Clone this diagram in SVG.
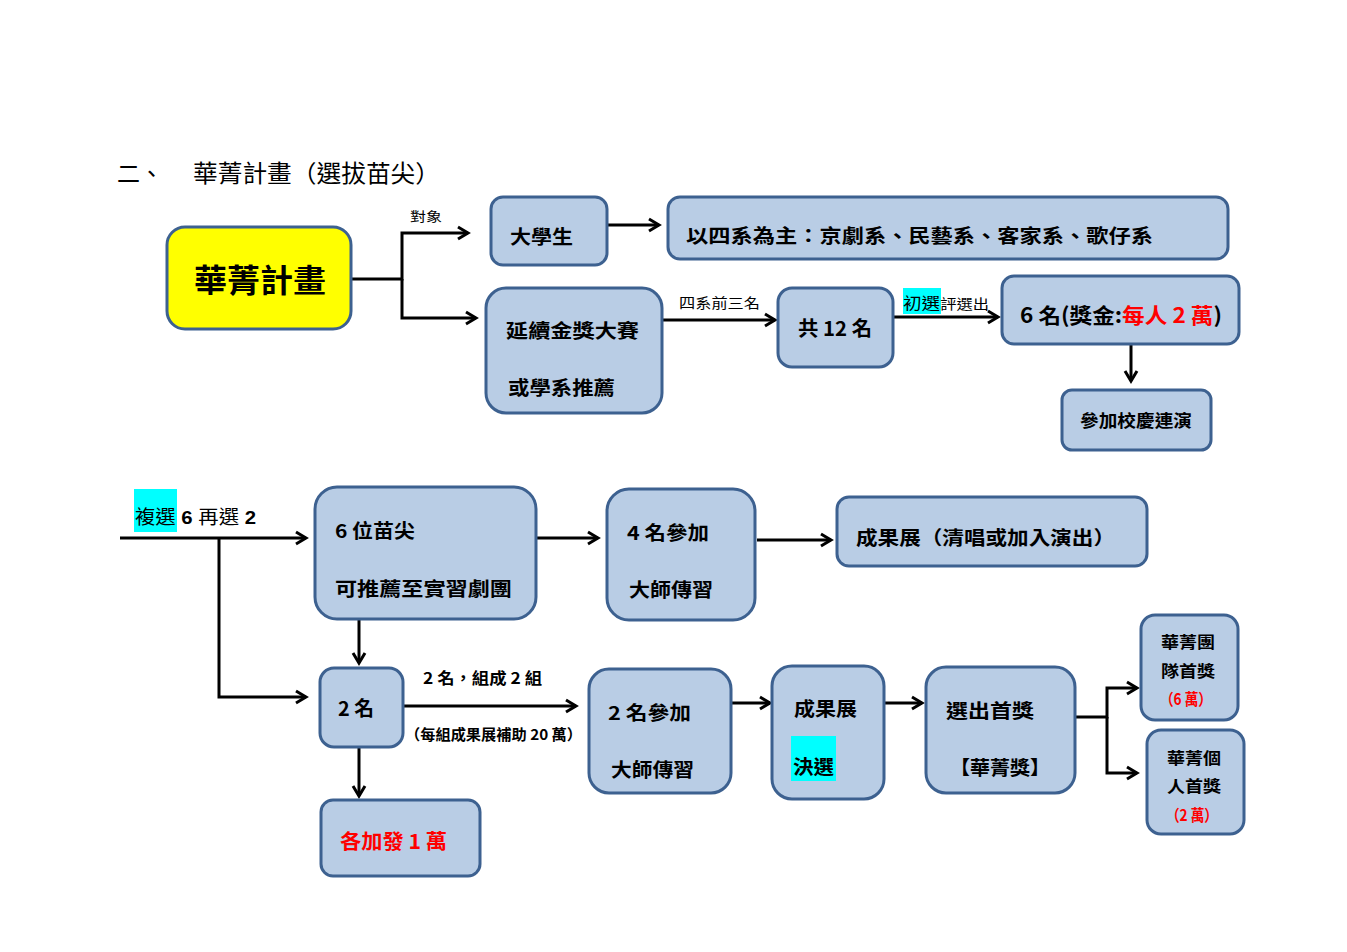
<svg xmlns="http://www.w3.org/2000/svg" width="1347" height="952" viewBox="0 0 1347 952">
<defs>
<style>
.box{fill:#B9CDE5;stroke:#3D6190;stroke-width:3}
.t{font-family:"Noto Sans CJK TC","Noto Sans CJK SC",sans-serif;font-weight:bold;fill:#000}
.n{font-family:"Noto Sans CJK TC","Noto Sans CJK SC",sans-serif;fill:#000}
.red{fill:#FF0000}
.c{fill:none;stroke:#000;stroke-width:3}
.hl{fill:#00FFFF}
</style>
<marker id="ah" markerUnits="userSpaceOnUse" markerWidth="16" markerHeight="16" refX="12" refY="8" orient="auto">
<path d="M2,2 L12,8 L2,14" fill="none" stroke="#000" stroke-width="3"/>
</marker>
</defs>
<rect width="1347" height="952" fill="#fff"/>

<g id="title">
<text class="n" x="117" y="182" font-size="23">二、</text>
<text class="n" x="193" y="182" font-size="24" textLength="247" lengthAdjust="spacingAndGlyphs">華菁計畫（選拔苗尖）</text>
</g>

<g id="connectors">
<path class="c" d="M351,279 H402 V233 H468" marker-end="url(#ah)"/>
<path class="c" d="M402,279 V318 H476" marker-end="url(#ah)"/>
<path class="c" d="M607,225 H659" marker-end="url(#ah)"/>
<path class="c" d="M662,320 H775" marker-end="url(#ah)"/>
<path class="c" d="M893,317 H998" marker-end="url(#ah)"/>
<path class="c" d="M1131,345 V381" marker-end="url(#ah)"/>
<path class="c" d="M120,538 H306" marker-end="url(#ah)"/>
<path class="c" d="M219,538 V697 H306" marker-end="url(#ah)"/>
<path class="c" d="M537,538 H598" marker-end="url(#ah)"/>
<path class="c" d="M757,540 H831" marker-end="url(#ah)"/>
<path class="c" d="M359,620 V663" marker-end="url(#ah)"/>
<path class="c" d="M403,706 H576" marker-end="url(#ah)"/>
<path class="c" d="M359,747 V796" marker-end="url(#ah)"/>
<path class="c" d="M731,703 H770" marker-end="url(#ah)"/>
<path class="c" d="M884,703 H922" marker-end="url(#ah)"/>
<path class="c" d="M1075,717 H1107 V688 H1137" marker-end="url(#ah)"/>
<path class="c" d="M1107,717 V773 H1137" marker-end="url(#ah)"/>
</g>

<g id="labels">
<text class="n" x="410" y="221" font-size="13" textLength="32" lengthAdjust="spacingAndGlyphs">對象</text>
<text class="n" x="679" y="308" font-size="14" textLength="81" lengthAdjust="spacingAndGlyphs">四系前三名</text>
<rect class="hl" x="903" y="288" width="38" height="26"/>
<text class="n" x="903" y="309" font-size="16" textLength="86" lengthAdjust="spacingAndGlyphs">初選<tspan font-size="14">評選出</tspan></text>
<rect class="hl" x="134" y="489" width="43" height="43"/>
<text class="n" x="135" y="524" font-size="19" textLength="121" lengthAdjust="spacingAndGlyphs">複選<tspan font-weight="bold" font-family="Liberation Sans, sans-serif"> 6 </tspan>再選<tspan font-weight="bold" font-family="Liberation Sans, sans-serif"> 2</tspan></text>
<text class="t" x="423" y="684" font-size="16" textLength="119" lengthAdjust="spacingAndGlyphs">2 名，組成 2 組</text>
<text class="t" x="405" y="740" font-size="15" textLength="177" lengthAdjust="spacingAndGlyphs">（每組成果展補助 20 萬）</text>
</g>

<g id="n-huajing">
<rect x="167" y="227" width="184" height="102" rx="18" fill="#FFFF00" stroke="#3D6190" stroke-width="3"/>
<text class="t" x="194" y="292" font-size="32" textLength="132" lengthAdjust="spacingAndGlyphs">華菁計畫</text>
</g>
<g id="n-student">
<rect class="box" x="491" y="197" width="116" height="68" rx="12"/>
<text class="t" x="510" y="244" font-size="19" textLength="63" lengthAdjust="spacingAndGlyphs">大學生</text>
</g>
<g id="n-depts">
<rect class="box" x="668" y="197" width="560" height="62" rx="12"/>
<text class="t" x="686" y="243" font-size="19" textLength="467" lengthAdjust="spacingAndGlyphs">以四系為主：京劇系、民藝系、客家系、歌仔系</text>
</g>
<g id="n-contest">
<rect class="box" x="486" y="288" width="176" height="125" rx="20"/>
<text class="t" x="506" y="338" font-size="19" textLength="133" lengthAdjust="spacingAndGlyphs">延續金獎大賽</text>
<text class="t" x="508" y="395" font-size="19" textLength="107" lengthAdjust="spacingAndGlyphs">或學系推薦</text>
</g>
<g id="n-12">
<rect class="box" x="778" y="288" width="115" height="79" rx="14"/>
<text class="t" x="798" y="336" font-size="20" textLength="74" lengthAdjust="spacingAndGlyphs">共 12 名</text>
</g>
<g id="n-6">
<rect class="box" x="1002" y="276" width="237" height="68" rx="12"/>
<text class="t" x="1020" y="323" font-size="21" textLength="202" lengthAdjust="spacingAndGlyphs">6 名(獎金:<tspan class="red">每人 2 萬</tspan>)</text>
</g>
<g id="n-perform">
<rect class="box" x="1062" y="390" width="149" height="60" rx="10"/>
<text class="t" x="1080" y="427" font-size="17" textLength="112" lengthAdjust="spacingAndGlyphs">參加校慶連演</text>
</g>

<g id="n-6miao">
<rect class="box" x="315" y="487" width="221" height="132" rx="22"/>
<text class="t" x="335" y="538" font-size="19" textLength="80" lengthAdjust="spacingAndGlyphs">6 位苗尖</text>
<text class="t" x="335" y="596" font-size="19" textLength="177" lengthAdjust="spacingAndGlyphs">可推薦至實習劇團</text>
</g>
<g id="n-4join">
<rect class="box" x="607" y="489" width="148" height="131" rx="22"/>
<text class="t" x="627" y="540" font-size="19" textLength="82" lengthAdjust="spacingAndGlyphs">4 名參加</text>
<text class="t" x="629" y="597" font-size="19" textLength="84" lengthAdjust="spacingAndGlyphs">大師傳習</text>
</g>
<g id="n-expo1">
<rect class="box" x="837" y="497" width="310" height="69" rx="12"/>
<text class="t" x="856" y="545" font-size="19" textLength="259" lengthAdjust="spacingAndGlyphs">成果展（清唱或加入演出）</text>
</g>
<g id="n-2">
<rect class="box" x="320" y="668" width="83" height="79" rx="14"/>
<text class="t" x="338" y="716" font-size="20" textLength="36" lengthAdjust="spacingAndGlyphs">2 名</text>
</g>
<g id="n-bonus">
<rect class="box" x="321" y="800" width="159" height="76" rx="12"/>
<text class="t red" x="340" y="849" font-size="20" textLength="107" lengthAdjust="spacingAndGlyphs">各加發 1 萬</text>
</g>
<g id="n-2join">
<rect class="box" x="589" y="669" width="142" height="124" rx="20"/>
<text class="t" x="608" y="720" font-size="19" textLength="83" lengthAdjust="spacingAndGlyphs">2 名參加</text>
<text class="t" x="611" y="777" font-size="19" textLength="83" lengthAdjust="spacingAndGlyphs">大師傳習</text>
</g>
<g id="n-expo2">
<rect class="box" x="772" y="666" width="112" height="133" rx="20"/>
<text class="t" x="794" y="716" font-size="19" textLength="63" lengthAdjust="spacingAndGlyphs">成果展</text>
<rect class="hl" x="791" y="736" width="45" height="45"/>
<text class="t" x="793" y="774" font-size="19" textLength="41" lengthAdjust="spacingAndGlyphs">決選</text>
</g>
<g id="n-top">
<rect class="box" x="926" y="667" width="149" height="126" rx="20"/>
<text class="t" x="946" y="718" font-size="19" textLength="88" lengthAdjust="spacingAndGlyphs">選出首獎</text>
<text class="t" x="950" y="775" font-size="19" textLength="100" lengthAdjust="spacingAndGlyphs">【華菁獎】</text>
</g>
<g id="n-team">
<rect class="box" x="1141" y="615" width="97" height="105" rx="14"/>
<text class="t" x="1161" y="648" font-size="16" textLength="54" lengthAdjust="spacingAndGlyphs">華菁團</text>
<text class="t" x="1161" y="677" font-size="16" textLength="54" lengthAdjust="spacingAndGlyphs">隊首獎</text>
<text class="t red" x="1160" y="705" font-size="16" textLength="52" lengthAdjust="spacingAndGlyphs">（6 萬）</text>
</g>
<g id="n-indiv">
<rect class="box" x="1147" y="730" width="97" height="104" rx="14"/>
<text class="t" x="1167" y="764" font-size="16" textLength="54" lengthAdjust="spacingAndGlyphs">華菁個</text>
<text class="t" x="1167" y="792" font-size="16" textLength="54" lengthAdjust="spacingAndGlyphs">人首獎</text>
<text class="t red" x="1166" y="821" font-size="16" textLength="52" lengthAdjust="spacingAndGlyphs">（2 萬）</text>
</g>
</svg>
